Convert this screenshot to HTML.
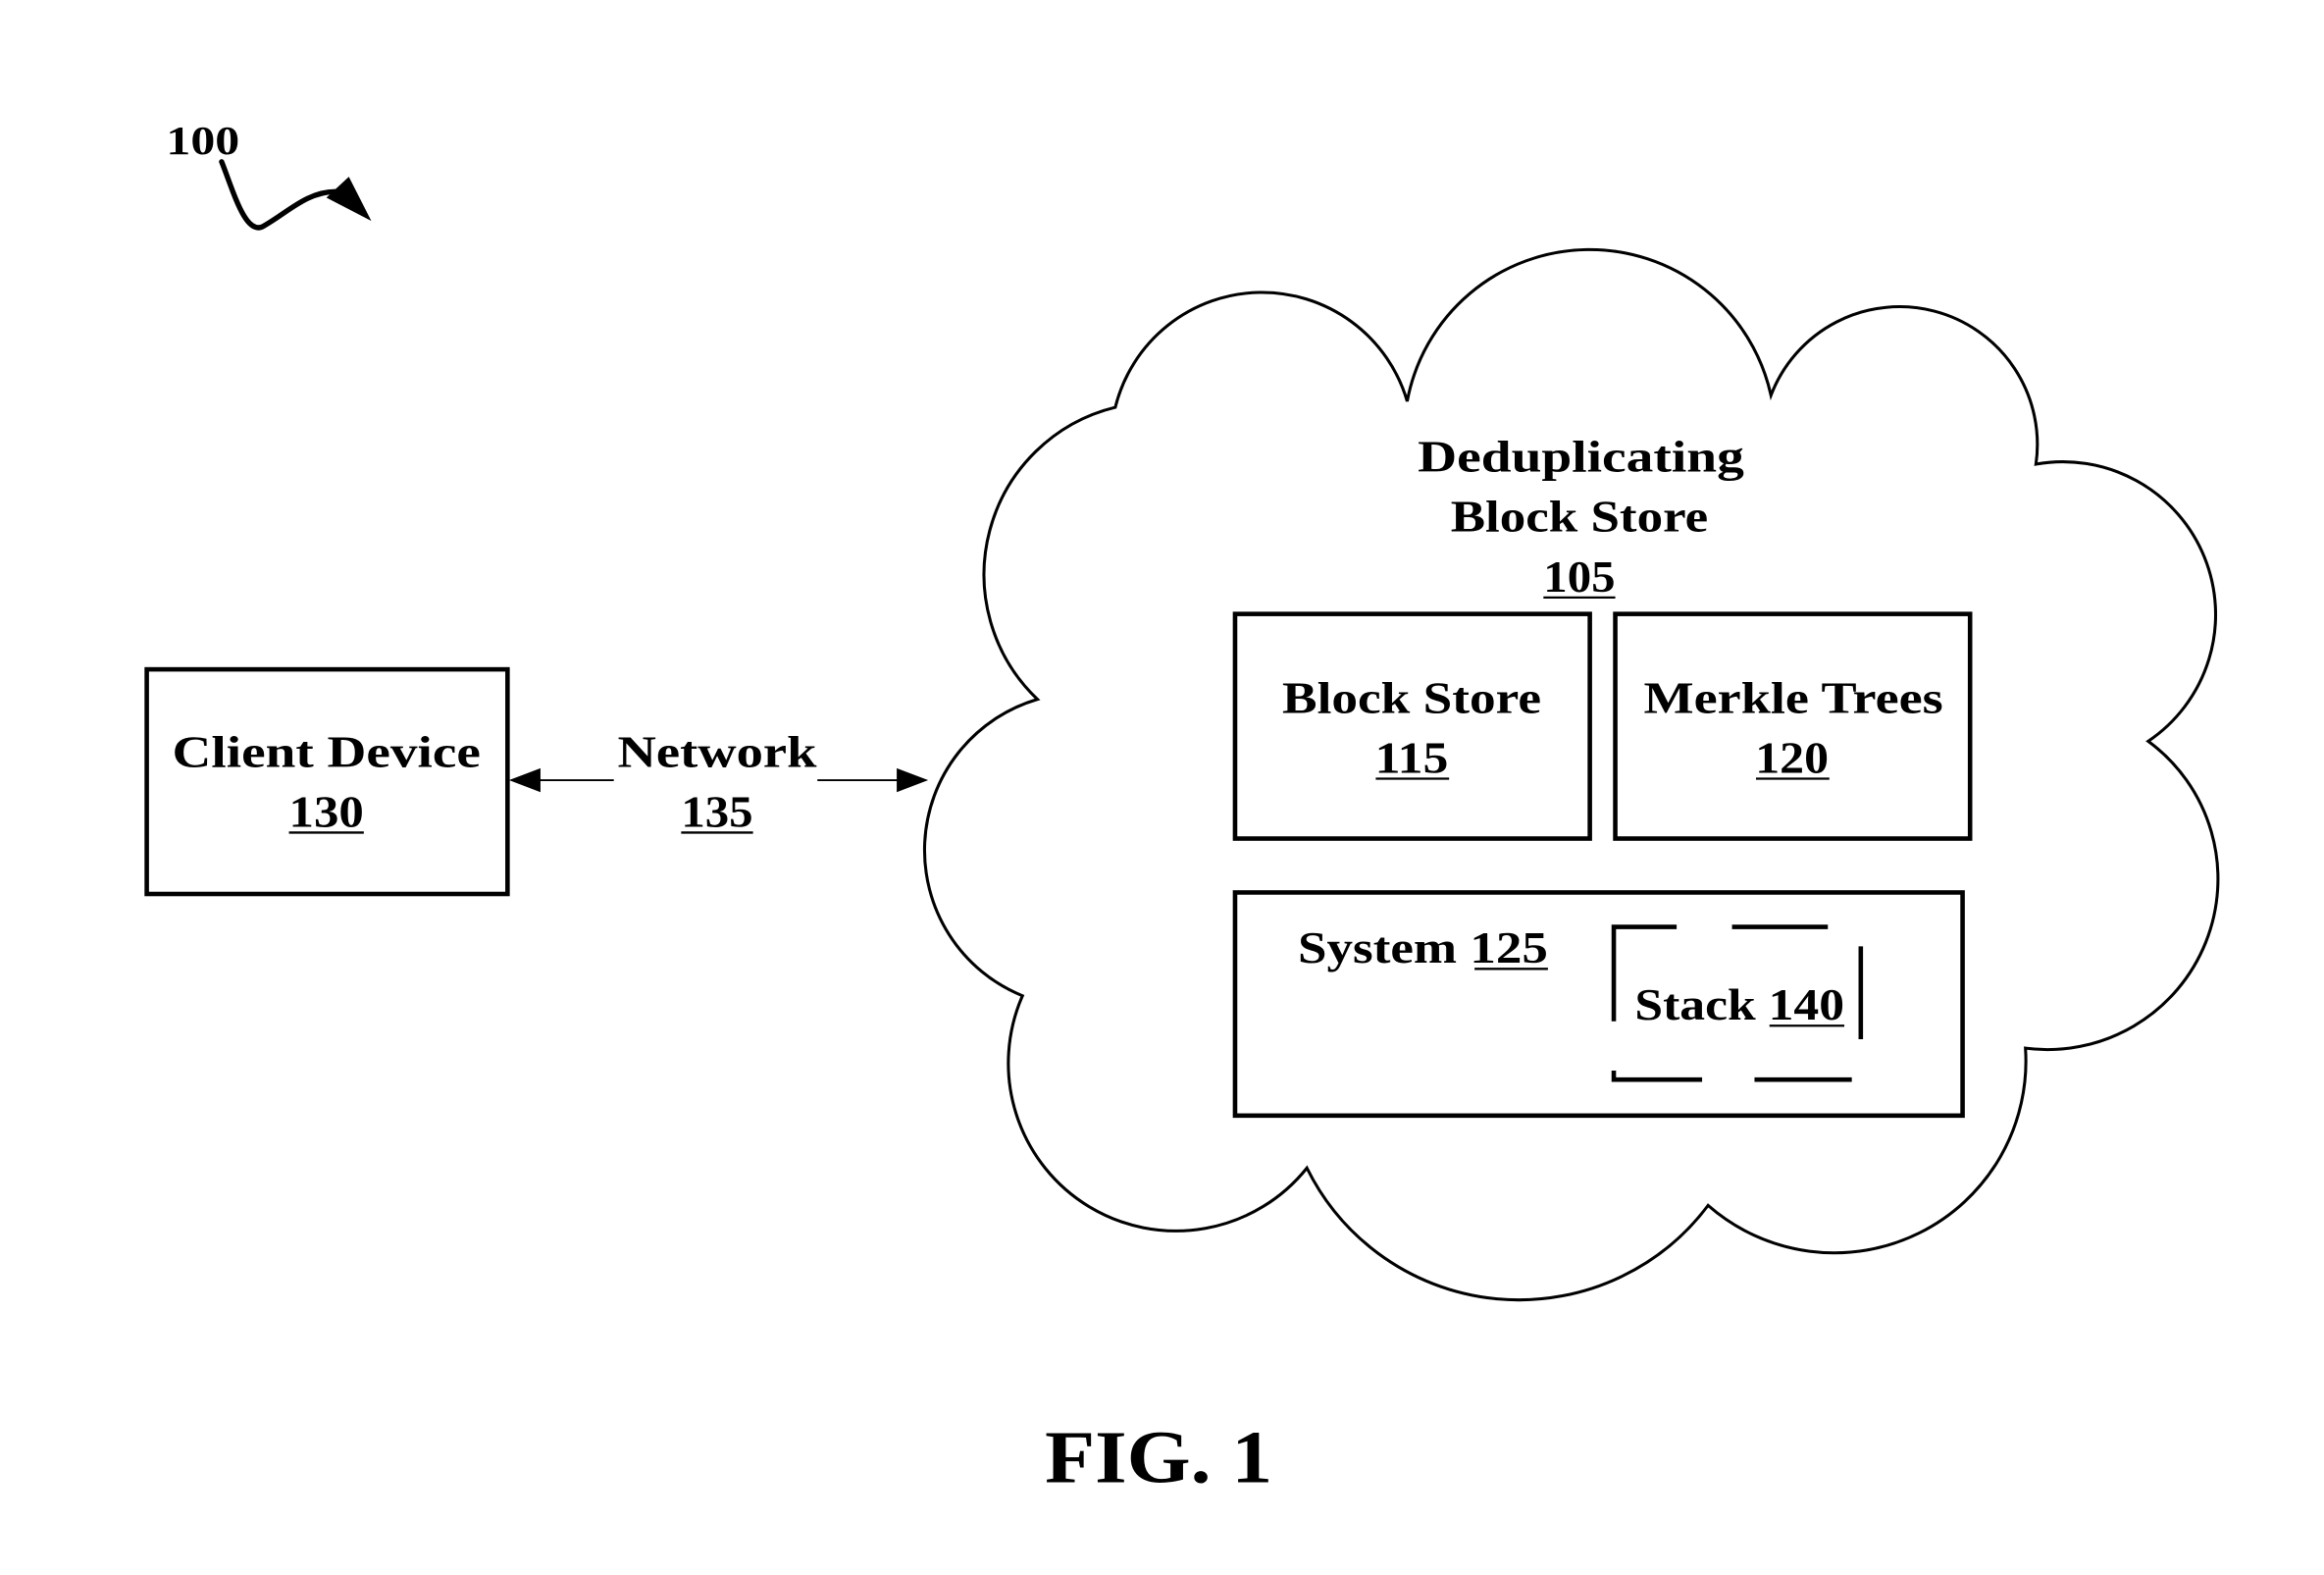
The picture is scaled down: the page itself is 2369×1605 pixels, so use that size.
<!DOCTYPE html>
<html><head><meta charset="utf-8"><style>
html,body{margin:0;padding:0;background:#fff;}
svg{display:block;}
text{font-family:"Liberation Serif",serif;font-weight:bold;fill:#000;}
</style></head><body>
<svg width="2369" height="1605" viewBox="0 0 1552.4 1051.8" xmlns="http://www.w3.org/2000/svg">
<rect x="0" y="0" width="1552.4" height="1051.8" fill="#fff"/>
<!-- 100 label -->
<text x="111" y="103" font-size="27" textLength="49" lengthAdjust="spacingAndGlyphs">100</text>
<path d="M148,108 C156,128 164,158 176,151 C192,142 205,128 224,128" fill="none" stroke="#000" stroke-width="3.5" stroke-linecap="round"/>
<polygon points="233,118 248,147.5 218,132" fill="#000"/>
<!-- Cloud -->
<path d="M693,467 A115,115 0 0 1 745,272 A101,101 0 0 1 940,268 A124,124 0 0 1 1183,264 A92,92 0 0 1 1360,310 A102,102 0 0 1 1435,495 A114,114 0 0 1 1353,700 A128,128 0 0 1 1141,805 A158,158 0 0 1 873,780 A112,112 0 0 1 683,665 A105,105 0 0 1 693,467 Z" fill="none" stroke="#000" stroke-width="2"/>
<!-- Client box -->
<rect x="98" y="447" width="241" height="150" fill="none" stroke="#000" stroke-width="3"/>
<text x="218" y="512" font-size="30" text-anchor="middle" textLength="206" lengthAdjust="spacingAndGlyphs">Client Device</text>
<text x="218" y="552" font-size="30" text-anchor="middle" textLength="50" lengthAdjust="spacingAndGlyphs">130</text>
<line x1="193" y1="556" x2="243" y2="556" stroke="#000" stroke-width="1.5"/>
<!-- Network -->
<text x="479" y="512" font-size="30" text-anchor="middle" textLength="133" lengthAdjust="spacingAndGlyphs">Network</text>
<text x="479" y="552" font-size="30" text-anchor="middle" textLength="48" lengthAdjust="spacingAndGlyphs">135</text>
<line x1="455" y1="556" x2="503" y2="556" stroke="#000" stroke-width="1.5"/>
<line x1="355" y1="521" x2="410" y2="521" stroke="#000" stroke-width="1.2"/>
<polygon points="340,521 361,513 361,529" fill="#000"/>
<line x1="546" y1="521" x2="605" y2="521" stroke="#000" stroke-width="1.2"/>
<polygon points="620,521 599,513 599,529" fill="#000"/>
<!-- Dedup text -->
<text x="1056" y="315" font-size="30" text-anchor="middle" textLength="218" lengthAdjust="spacingAndGlyphs">Deduplicating</text>
<text x="1055" y="355" font-size="30" text-anchor="middle" textLength="172" lengthAdjust="spacingAndGlyphs">Block Store</text>
<text x="1055" y="395" font-size="30" text-anchor="middle" textLength="48" lengthAdjust="spacingAndGlyphs">105</text>
<line x1="1031" y1="399" x2="1079" y2="399" stroke="#000" stroke-width="1.5"/>
<!-- Block store box -->
<rect x="825" y="410" width="237" height="150" fill="none" stroke="#000" stroke-width="3"/>
<text x="943" y="476" font-size="30" text-anchor="middle" textLength="173" lengthAdjust="spacingAndGlyphs">Block Store</text>
<text x="943" y="516" font-size="30" text-anchor="middle" textLength="49" lengthAdjust="spacingAndGlyphs">115</text>
<line x1="919" y1="520" x2="968" y2="520" stroke="#000" stroke-width="1.5"/>
<!-- Merkle -->
<rect x="1079" y="410" width="237" height="150" fill="none" stroke="#000" stroke-width="3"/>
<text x="1198" y="476" font-size="30" text-anchor="middle" textLength="200" lengthAdjust="spacingAndGlyphs">Merkle Trees</text>
<text x="1197" y="516" font-size="30" text-anchor="middle" textLength="49" lengthAdjust="spacingAndGlyphs">120</text>
<line x1="1173" y1="520" x2="1222" y2="520" stroke="#000" stroke-width="1.5"/>
<!-- System -->
<rect x="825" y="596" width="486" height="149" fill="none" stroke="#000" stroke-width="3"/>
<text x="867" y="643" font-size="30" textLength="167" lengthAdjust="spacingAndGlyphs">System 125</text>
<line x1="985" y1="647" x2="1034" y2="647" stroke="#000" stroke-width="1.5"/>
<!-- Stack dashed -->
<g stroke="#000" stroke-width="3" fill="none">
<polyline points="1078,682 1078,619 1120,619"/>
<line x1="1157" y1="619" x2="1221" y2="619"/>
<line x1="1243" y1="632" x2="1243" y2="694"/>
<polyline points="1078,715 1078,721 1137,721"/>
<line x1="1172" y1="721" x2="1237" y2="721"/>
</g>
<text x="1092" y="681" font-size="30" textLength="140" lengthAdjust="spacingAndGlyphs">Stack 140</text>
<line x1="1182" y1="685" x2="1232" y2="685" stroke="#000" stroke-width="1.5"/>
<!-- FIG -->
<text x="774" y="990" font-size="50" text-anchor="middle" textLength="152" lengthAdjust="spacingAndGlyphs">FIG. 1</text>
</svg>
</body></html>
